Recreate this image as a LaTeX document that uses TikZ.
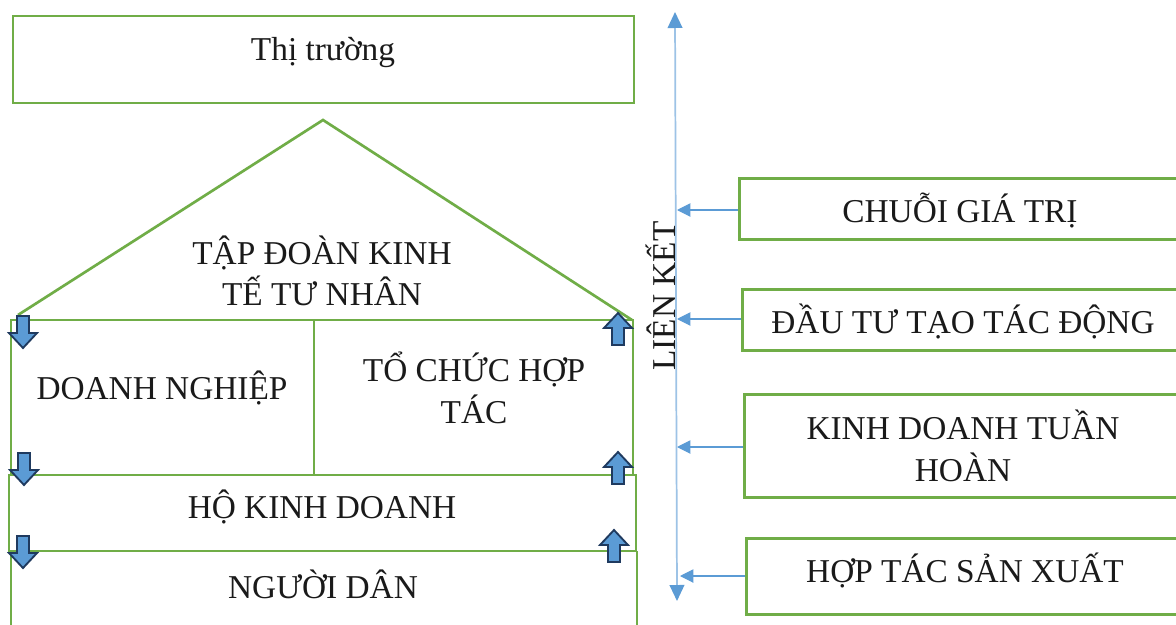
\documentclass[tikz,border=0pt]{standalone}
\usepackage{fontspec}
\setmainfont{Liberation Serif}
\usetikzlibrary{arrows.meta}
\definecolor{grn}{HTML}{70AD47}
\definecolor{axisblue}{HTML}{9DC3E6}
\definecolor{tipblue}{HTML}{5B9BD5}
\definecolor{navy}{HTML}{1F3A5F}
\definecolor{txt}{HTML}{1A1A1A}
\begin{document}
\begin{tikzpicture}[x=0.75pt,y=-0.75pt,
  gline/.style={draw=grn,line width=2pt},
  lbl/.style={font=\fontsize{25}{31}\selectfont,text=txt,align=center,inner sep=0pt},
  rbox/.style={gline,rectangle,inner sep=0pt,anchor=north west,minimum width=345pt},
  link/.style={draw=tipblue,line width=0.8pt,-{Triangle[length=10pt,width=10pt]}},
  barrow/.style={fill=tipblue,draw=navy,line width=1.4pt,line join=miter},
  blockdown/.pic={\path[barrow] (-6,0)--(6,0)--(6,17)--(14,17)--(0,32)--(-14,17)--(-6,17)--cycle;},
  blockup/.pic={\path[barrow] (-6,0)--(6,0)--(6,-17)--(14,-17)--(0,-32)--(-14,-17)--(-6,-17)--cycle;}
]
\useasboundingbox (0,0) rectangle (1176,624);
\clip (0,0) rectangle (1176,624);
\fill[white] (0,0) rectangle (1176,624);

% left structure
\draw[gline] (13,16) rectangle (634,103);
\node[lbl] (market) at (323,53) {Thị trường};

\draw[gline] (18,315) -- (323,120) -- (632,320);
\node[lbl] (group) at (322,271) {TẬP ĐOÀN KINH\\TẾ TƯ NHÂN};

\draw[gline] (11,320) rectangle (633,475);
\draw[gline] (314,320) -- (314,475);
\node[lbl] (firm) at (162,388) {DOANH NGHIỆP};
\node[lbl] (coop) at (474,388) {TỔ CHỨC HỢP\\TÁC};

\draw[gline] (9,475) rectangle (636,551);
\node[lbl] (household) at (322,507) {HỘ KINH DOANH};

\draw[gline] (11,551) -- (637,551);
\draw[gline] (11,551) -- (11,630);
\draw[gline] (637,551) -- (637,630);
\node[lbl] (people) at (323,584) {NGƯỜI DÂN};

% block arrows
\pic at (23,316) {blockdown};
\pic at (24,453) {blockdown};
\pic at (23,536) {blockdown};
\pic at (618,345) {blockup};
\pic at (618,484) {blockup};
\pic at (614,562) {blockup};

% axis
\coordinate (axtop) at (675,12);
\coordinate (axbot) at (677,601);
\draw[draw=axisblue,line width=1.3pt,{Triangle[length=12pt,width=11pt,color=tipblue]}-{Triangle[length=12pt,width=11pt,color=tipblue]}] (axbot) -- (axtop);
\node[lbl,rotate=90] (lienket) at (661,296) {LIÊN KẾT};

% right boxes
\node[rbox,minimum height=45.75pt] (b1) at (738,177) {};
\node[lbl] at (960,210) {CHUỖI GIÁ TRỊ};
\node[rbox,minimum height=45.75pt] (b2) at (741,288) {};
\node[lbl] at (963,321) {ĐẦU TƯ TẠO TÁC ĐỘNG};
\node[rbox,minimum height=77.25pt] (b3) at (743,393) {};
\node[lbl] at (963,446) {KINH DOANH TUẦN\\HOÀN};
\node[rbox,minimum height=57pt] (b4) at (745,537) {};
\node[lbl] at (965,570) {HỢP TÁC SẢN XUẤT};

\coordinate (a1) at (677,210);
\coordinate (a2) at (677,319);
\coordinate (a3) at (677,447);
\coordinate (a4) at (680,576);
\draw[link] (b1.west |- a1) -- (a1);
\draw[link] (b2.west |- a2) -- (a2);
\draw[link] (b3.west |- a3) -- (a3);
\draw[link] (b4.west |- a4) -- (a4);
\end{tikzpicture}
\end{document}
